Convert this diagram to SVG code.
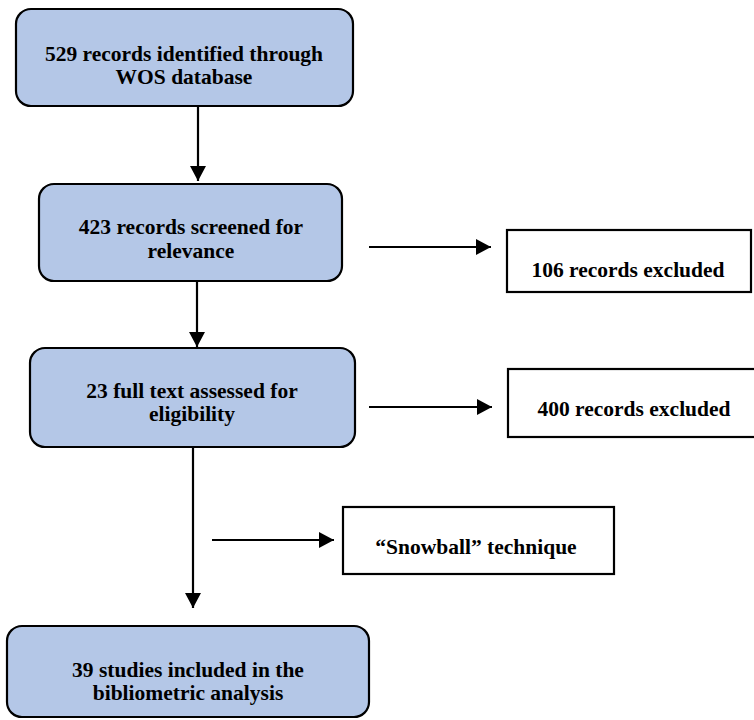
<svg xmlns="http://www.w3.org/2000/svg" width="754" height="720" viewBox="0 0 754 720">
  <defs>
    <marker id="arrow" markerUnits="userSpaceOnUse" markerWidth="18" markerHeight="18" refX="15" refY="8" orient="auto">
      <path d="M0,0 L15,8 L0,16 z" fill="#000"/>
    </marker>
    <style>
      .step { fill: #B4C7E7; stroke: #000; stroke-width: 2.2; }
      .side { fill: #fff; stroke: #000; stroke-width: 2.2; }
      text { font-family: 'Liberation Serif', 'DejaVu Serif', serif; font-weight: bold; font-size: 21.5px; fill: #000; text-anchor: middle; }
      .conn { stroke: #000; stroke-width: 2.2; fill: none; marker-end: url(#arrow); }
    </style>
  </defs>
  <rect width="754" height="720" fill="#fff"/>

  <g id="connectors">
    <line class="conn" x1="198" y1="107" x2="198" y2="181"/>
    <line class="conn" x1="197" y1="282" x2="197" y2="347"/>
    <line class="conn" x1="193" y1="448" x2="193" y2="608"/>
    <line class="conn" x1="369" y1="247" x2="491" y2="247"/>
    <line class="conn" x1="369" y1="407" x2="492" y2="407"/>
    <line class="conn" x1="212" y1="540" x2="334" y2="540"/>
  </g>

  <g id="identified">
    <rect class="step" x="16" y="9" width="337" height="97" rx="15"/>
    <text x="184" y="61">529 records identified through</text>
    <text x="184" y="84">WOS database</text>
  </g>

  <g id="screened">
    <rect class="step" x="39" y="184" width="303" height="97" rx="15"/>
    <text x="191" y="234">423 records screened for</text>
    <text x="191" y="258">relevance</text>
  </g>

  <g id="excluded106">
    <rect class="side" x="507" y="230" width="244" height="62"/>
    <text x="628" y="277">106 records excluded</text>
  </g>

  <g id="fulltext">
    <rect class="step" x="30" y="348" width="325" height="99" rx="15"/>
    <text x="192" y="398">23 full text assessed for</text>
    <text x="192" y="421">eligibility</text>
  </g>

  <g id="excluded400">
    <rect class="side" x="508" y="369" width="250" height="68"/>
    <text x="634" y="416">400 records excluded</text>
  </g>

  <g id="snowball">
    <rect class="side" x="343" y="507" width="271" height="67"/>
    <text x="476" y="554">“Snowball” technique</text>
  </g>

  <g id="included">
    <rect class="step" x="7" y="626" width="362" height="91" rx="15"/>
    <text x="188" y="677">39 studies included in the</text>
    <text x="188" y="700">bibliometric analysis</text>
  </g>
</svg>
